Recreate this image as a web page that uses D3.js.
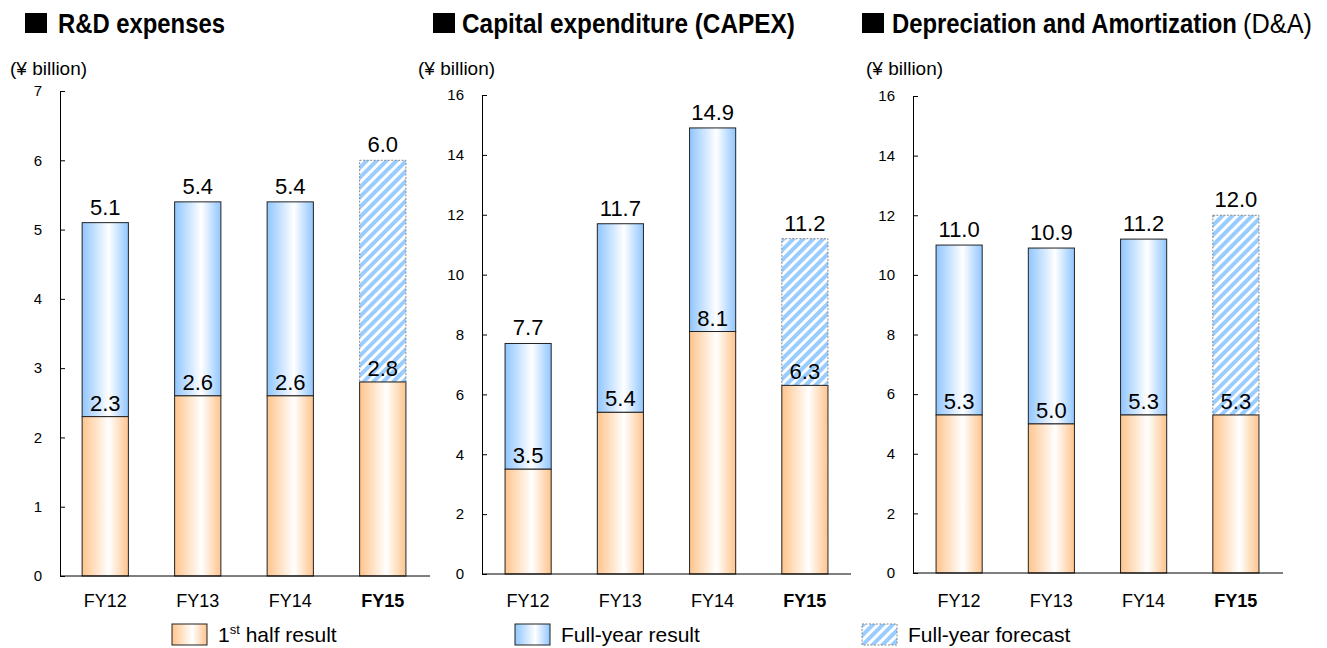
<!DOCTYPE html>
<html><head><meta charset="utf-8">
<script src="https://cdn.jsdelivr.net/npm/d3@7"></script>
<style>
html,body{margin:0;padding:0;background:#fff;}
svg{display:block;}
text{font-family:"Liberation Sans",Arial,sans-serif;fill:#000;}
</style></head>
<body>
<svg id="c" width="1327" height="648"></svg>
<script>
// ---- data ----
const categories = ["FY12","FY13","FY14","FY15"];
const forecastCategory = "FY15";
const rdHalf   = [2.3, 2.6, 2.6, 2.8];
const rdFull   = [5.1, 5.4, 5.4, 6.0];
const capexHalf = [3.5, 5.4, 8.1, 6.3];
const capexFull = [7.7, 11.7, 14.9, 11.2];
const daHalf   = [5.3, 5.0, 5.3, 5.3];
const daFull   = [11.0, 10.9, 11.2, 12.0];
const rdTicks = [0,1,2,3,4,5,6,7];
const bigTicks = [0,2,4,6,8,10,12,14,16];
const unitLabel = "(¥ billion)";
const legendLabels = ["half result", "Full-year result", "Full-year forecast"];

const svg = d3.select("#c");
const defs = svg.append("defs");

function grad(id, c){
  const g = defs.append("linearGradient").attr("id", id).attr("x1","0").attr("x2","1").attr("y1","0").attr("y2","0");
  g.append("stop").attr("offset","0").attr("stop-color", c);
  g.append("stop").attr("offset","0.58").attr("stop-color", "#ffffff");
  g.append("stop").attr("offset","1").attr("stop-color", c);
}
grad("gOrange", "#ffc48c");
grad("gBlue", "#90c6ff");
const pat = defs.append("pattern").attr("id","hatch").attr("patternUnits","userSpaceOnUse")
  .attr("width", 7).attr("height", 7).attr("patternTransform","rotate(45)");
pat.append("rect").attr("width",7).attr("height",7).attr("fill","#ffffff");
pat.append("rect").attr("width",4).attr("height",7).attr("fill","#99ccff");

const panels = [
  {half: rdHalf, full: rdFull, ticks: rdTicks, max: 7,
   axisX: 60, xRange:[59,429], xEnd: 430, yRange:[576,91],
   titleParts:[{t:"R&D expenses", x:58, len:167, bold:true}], sq:25, unitX:10},
  {half: capexHalf, full: capexFull, ticks: bigTicks, max: 16,
   axisX: 482, xRange:[482,851], xEnd: 851, yRange:[574,95],
   titleParts:[{t:"Capital expenditure (CAPEX)", x:462, len:333, bold:true}], sq:433, unitX:418},
  {half: daHalf, full: daFull, ticks: bigTicks, max: 16,
   axisX: 913, xRange:[913,1282], xEnd: 1283, yRange:[573,96],
   titleParts:[{t:"Depreciation and Amortization", x:892, len:345, bold:true},
               {t:"(D&A)", x:1243, len:69, bold:false}], sq:862, unitX:866}
];

function fitText(sel, x, yb, len){
  const w = sel.node().getComputedTextLength();
  sel.attr("x", 0).attr("y", 0).attr("transform", `translate(${x},${yb}) scale(${len / w},1)`);
}

panels.forEach(p => {
  const g = svg.append("g");
  const y = d3.scaleLinear().domain([0, p.max]).range(p.yRange);
  const x = d3.scaleBand().domain(categories).range(p.xRange).paddingInner(0.5).paddingOuter(0.25);

  // title
  g.append("rect").attr("x", p.sq).attr("y", 13).attr("width", 22).attr("height", 20).attr("fill", "#000");
  p.titleParts.forEach(tp => {
    const t = g.append("text").attr("font-size", 27)
      .attr("font-weight", tp.bold ? "bold" : "normal")
      .text(tp.t);
    fitText(t, tp.x, 33, tp.len);
  });
  g.append("text").attr("x", p.unitX).attr("y", 75).attr("font-size", 19).text(unitLabel);

  // y axis
  const ax = g.append("g").attr("transform", `translate(${p.axisX},0)`)
    .call(d3.axisLeft(y).tickValues(p.ticks).tickFormat(d3.format("d"))
      .tickSizeInner(-5).tickSizeOuter(0).tickPadding(18));
  ax.select(".domain").attr("stroke", "#000").attr("stroke-width", 1);
  ax.selectAll(".tick line").attr("stroke", "#000");
  ax.selectAll(".tick text").attr("font-size", 15).attr("font-family", "'Liberation Sans',Arial,sans-serif").attr("fill","#000");

  // bars
  categories.forEach((c, i) => {
    const fc = c === forecastCategory;
    const bx = x(c), bw = x.bandwidth();
    g.append("rect").attr("x", bx).attr("y", y(p.full[i])).attr("width", bw)
      .attr("height", y(p.half[i]) - y(p.full[i]))
      .attr("fill", fc ? "url(#hatch)" : "url(#gBlue)")
      .attr("stroke", fc ? "#888" : "#222").attr("stroke-width", 1)
      .attr("stroke-dasharray", fc ? "2,1.5" : null);
    g.append("rect").attr("x", bx).attr("y", y(p.half[i])).attr("width", bw)
      .attr("height", y(0) - y(p.half[i]))
      .attr("fill", "url(#gOrange)")
      .attr("stroke", "#222").attr("stroke-width", 1);
    if (fc) {
      g.append("line").attr("x1", bx + bw).attr("x2", bx + bw).attr("y1", y(p.half[i])).attr("y2", y(0))
        .attr("stroke", "#888").attr("stroke-dasharray", "2,1.5");
    }
    g.append("text").attr("x", bx + bw/2).attr("y", y(p.full[i]) - 8).attr("text-anchor","middle")
      .attr("font-size", 22).text(p.full[i].toFixed(1));
    g.append("text").attr("x", bx + bw/2).attr("y", y(p.half[i]) - 6).attr("text-anchor","middle")
      .attr("font-size", 22).text(p.half[i].toFixed(1));
    g.append("text").attr("x", bx + bw/2).attr("y", 607).attr("text-anchor","middle")
      .attr("font-size", 18).attr("font-weight", fc ? "bold" : "normal").text(c);
  });

  // x baseline
  g.append("line").attr("x1", p.axisX).attr("x2", p.xEnd).attr("y1", y(0)).attr("y2", y(0))
    .attr("stroke", "#000").attr("stroke-width", 1);
});

// legend
const lg = svg.append("g");
const legendItems = [
  {x:172, fill:"url(#gOrange)", stroke:"#222", dash:null, tx:218},
  {x:515, fill:"url(#gBlue)", stroke:"#222", dash:null, tx:561},
  {x:862, fill:"url(#hatch)", stroke:"#888", dash:"2,1.5", tx:908}
];
legendItems.forEach((it, i) => {
  lg.append("rect").attr("x", it.x).attr("y", 624).attr("width", 35).attr("height", 21)
    .attr("fill", it.fill).attr("stroke", it.stroke).attr("stroke-dasharray", it.dash);
  const t = lg.append("text").attr("x", it.tx).attr("y", 642).attr("font-size", 21);
  if (i === 0) {
    t.append("tspan").text("1");
    t.append("tspan").attr("font-size", 13).attr("dy", -8).text("st");
    t.append("tspan").attr("dy", 8).text(" " + legendLabels[0]);
  } else {
    t.text(legendLabels[i]);
  }
});
</script>
</body></html>
